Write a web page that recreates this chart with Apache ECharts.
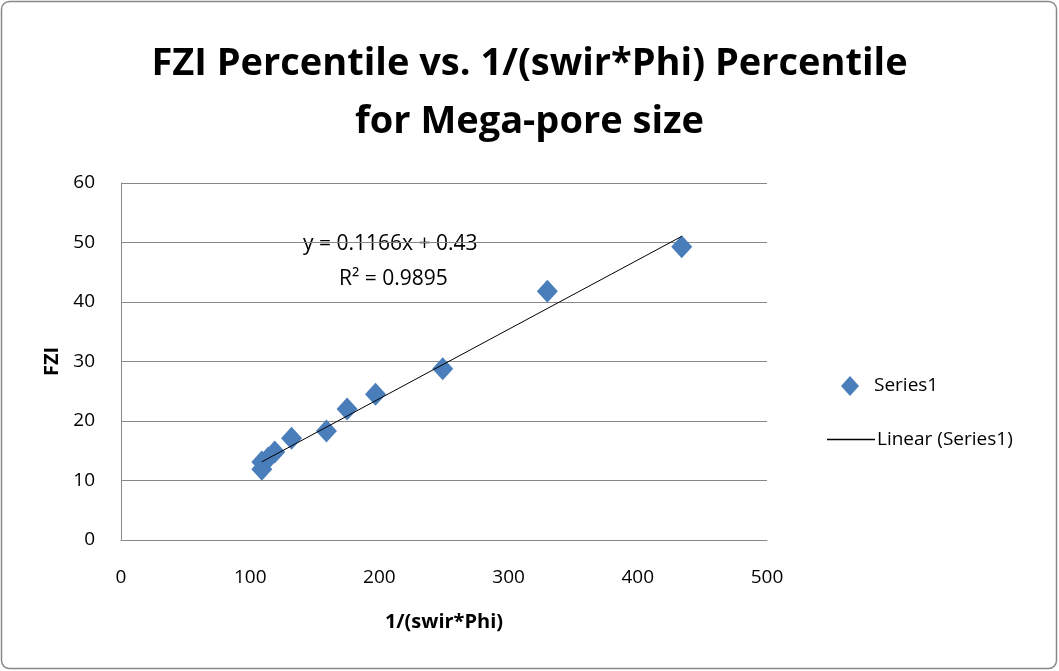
<!DOCTYPE html>
<html><head><meta charset="utf-8">
<script src="https://cdn.jsdelivr.net/npm/echarts@6/dist/echarts.min.js"></script>
<style>html,body{margin:0;padding:0;background:#fff}#c{width:1059px;height:671px}</style>
</head><body><div id="c"></div>
<script>
const xValues = [434, 330, 249, 197, 175, 159, 132, 119, 114, 109, 109];
const yValues = [49.3, 41.8, 28.8, 24.5, 22.0, 18.3, 17.1, 14.8, 13.8, 13.1, 11.9];
const trendSlope = 0.1166;
const trendIntercept = 0.43;
const xTicks = [0, 100, 200, 300, 400, 500];
const yTicks = [0, 10, 20, 30, 40, 50, 60];
const titleText = 'FZI Percentile vs. 1/(swir*Phi) Percentile\nfor Mega-pore size';
const eqText = 'y = 0.1166x + 0.43';
const r2Text = 'R² = 0.9895';

const font = '"Open Sans", sans-serif';
const pts = xValues.map((x, i) => [x, yValues[i]]);
const xmin = Math.min(...xValues), xmax = Math.max(...xValues);
const trend = [[xmin, trendSlope * xmin + trendIntercept], [xmax, trendSlope * xmax + trendIntercept]];

const chart = echarts.init(document.getElementById('c'));
chart.setOption({
  animation: false,
  backgroundColor: '#fff',
  title: {
    text: titleText, left: 'center', top: 30,
    textStyle: { fontFamily: font, fontWeight: 'bold', fontSize: 38, lineHeight: 58, color: '#000' }
  },
  grid: { left: 121, right: 1059 - 767, top: 183, bottom: 671 - 540 },
  xAxis: {
    type: 'value', min: xTicks[0], max: xTicks[xTicks.length - 1], interval: 100,
    name: '1/(swir*Phi)', nameLocation: 'middle', nameGap: 72,
    nameTextStyle: { fontFamily: font, fontWeight: 'bold', fontSize: 20, color: '#000' },
    axisLine: { lineStyle: { color: '#888' } }, axisTick: { show: false },
    axisLabel: { fontFamily: font, fontSize: 19, color: '#000', margin: 28 },
    splitLine: { show: false }
  },
  yAxis: {
    type: 'value', min: yTicks[0], max: yTicks[yTicks.length - 1], interval: 10,
    name: 'FZI', nameLocation: 'middle', nameGap: 51,
    nameTextStyle: { fontFamily: font, fontWeight: 'bold', fontSize: 20, color: '#000' },
    axisLine: { show: true, lineStyle: { color: '#888' } }, axisTick: { show: false },
    axisLabel: { fontFamily: font, fontSize: 19, color: '#000', margin: 26 },
    splitLine: { lineStyle: { color: '#888' } }
  },
  legend: [
    {
      left: 836, top: 371, itemWidth: 18, itemHeight: 20, itemGap: 10,
      textStyle: { fontFamily: font, fontSize: 19, color: '#000', padding: [0, 0, 0, 10] },
      data: [{ name: 'Series1', icon: 'diamond', itemStyle: { color: '#4A7EBB', opacity: 1 } }]
    },
    {
      left: 822, top: 425, itemWidth: 48, itemHeight: 1.5,
      textStyle: { fontFamily: font, fontSize: 19, color: '#000', padding: [0, 0, 0, -3] },
      data: [{ name: 'Linear (Series1)', icon: 'rect', itemStyle: { color: '#000' } }]
    }
  ],
  series: [
    {
      name: 'Series1', type: 'scatter', data: pts, symbol: 'diamond', symbolSize: [21, 23],
      itemStyle: { color: '#4A7EBB', opacity: 1 }, z: 3
    },
    {
      name: 'Linear (Series1)', type: 'line', data: trend, symbol: 'none',
      lineStyle: { color: '#000', width: 1 }, itemStyle: { color: '#000' }, z: 4
    }
  ],
  graphic: [
    { type: 'rect', shape: { x: 1.5, y: 1.5, width: 1055, height: 667, r: 8 },
      style: { fill: 'none', stroke: '#888', lineWidth: 1.5 }, z: -1 },
    { type: 'text', left: 303, top: 234,
      style: { text: eqText, fontFamily: font, fontSize: 21, fill: '#000' } },
    { type: 'text', left: 339, top: 269,
      style: { text: r2Text, fontFamily: font, fontSize: 21, fill: '#000' } }
  ]
});
</script></body></html>
